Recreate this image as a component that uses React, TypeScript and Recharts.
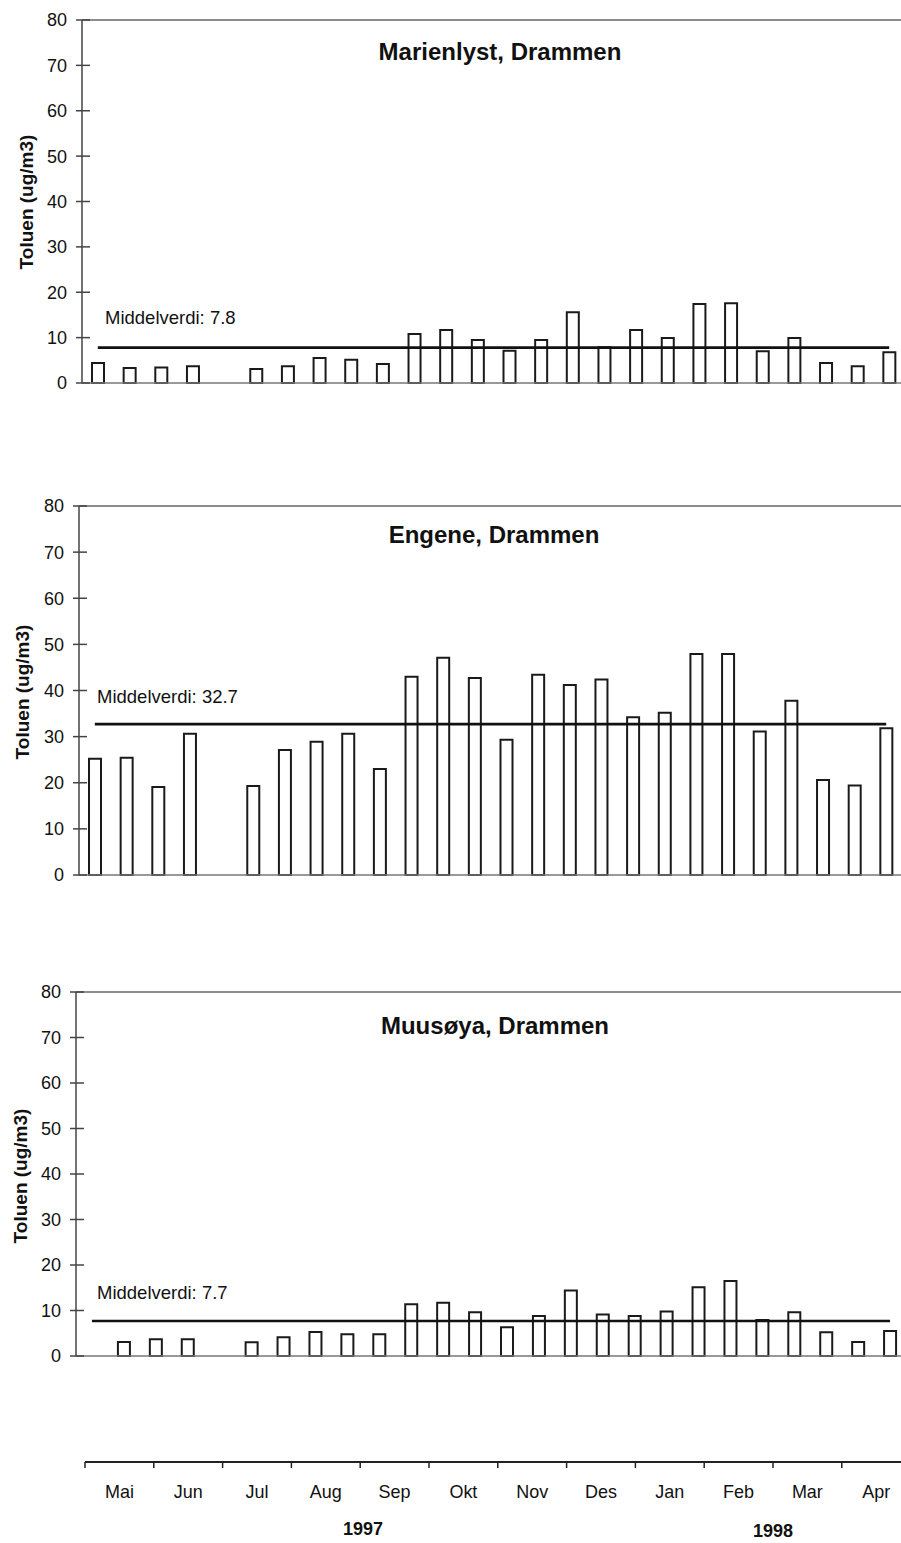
import React from 'react';
import { ComposedChart, Bar, Line, XAxis, YAxis, ReferenceLine } from 'recharts';

// ---- data ----
const SLOTS = [
  'P01', 'P02', 'P03', 'P04', 'P05', 'P06', 'P07', 'P08', 'P09', 'P10', 'P11', 'P12', 'P13',
  'P14', 'P15', 'P16', 'P17', 'P18', 'P19', 'P20', 'P21', 'P22', 'P23', 'P24', 'P25', 'P26',
];

const MARIENLYST: (number | null)[] = [
  4.4, 3.3, 3.4, 3.7, null, 3.1, 3.7, 5.5, 5.1, 4.2, 10.8, 11.7, 9.5,
  7.1, 9.5, 15.6, 7.9, 11.7, 9.9, 17.4, 17.6, 7.0, 9.9, 4.4, 3.7, 6.8,
];
const ENGENE: (number | null)[] = [
  25.2, 25.4, 19.1, 30.6, null, 19.3, 27.1, 28.9, 30.6, 23.0, 43.0, 47.1, 42.7,
  29.3, 43.4, 41.2, 42.4, 34.2, 35.2, 47.9, 47.9, 31.1, 37.8, 20.6, 19.4, 31.8,
];
const MUUSOYA: (number | null)[] = [
  null, 3.1, 3.7, 3.7, null, 3.0, 4.1, 5.3, 4.8, 4.8, 11.4, 11.7, 9.6,
  6.3, 8.8, 14.4, 9.1, 8.8, 9.8, 15.1, 16.5, 7.9, 9.6, 5.2, 3.1, 5.5,
];

const MEAN_MARIENLYST = 7.8;
const MEAN_ENGENE = 32.7;
const MEAN_MUUSOYA = 7.7;

const TITLES = ['Marienlyst, Drammen', 'Engene, Drammen', 'Muusøya, Drammen'];
const Y_TICKS = [0, 10, 20, 30, 40, 50, 60, 70, 80];
const MONTHS = ['Mai', 'Jun', 'Jul', 'Aug', 'Sep', 'Okt', 'Nov', 'Des', 'Jan', 'Feb', 'Mar', 'Apr'];
const YEARS = ['1997', '1998'];

const FONT = '"Liberation Sans", Arial, Helvetica, sans-serif';

// ---- components ----
const YTick = (props: any) => {
  const { x, y, payload } = props;
  return (
    <g>
      <line x1={x + 9} x2={x + 23} y1={y} y2={y} stroke="#444" strokeWidth={1.5} />
      <text x={x} y={y} dy="0.36em" textAnchor="end" fontSize={18} fontFamily={FONT} fill="#111">
        {payload.value}
      </text>
    </g>
  );
};

type PanelProps = {
  top: number;
  left: number;
  width: number;
  plotH: number;
  values: (number | null)[];
  mean: number;
};

function Panel({ top, left, width, plotH, values, mean }: PanelProps) {
  const data = SLOTS.map((s, i) => ({ slot: s, value: values[i], mean }));
  return (
    <div style={{ position: 'absolute', top: top - 10, left: 0 }}>
      <ComposedChart
        width={left + width}
        height={plotH + 21}
        data={data}
        margin={{ top: 10, right: 0, bottom: 10, left: 0 }}
      >
        <XAxis
          dataKey="slot"
          tick={false}
          tickLine={false}
          height={1}
          axisLine={{ stroke: '#777', strokeWidth: 1.5 }}
        />
        <YAxis
          domain={[0, 80]}
          ticks={Y_TICKS}
          interval={0}
          width={left}
          tickSize={6}
          tickMargin={9}
          tickLine={false}
          tick={YTick}
          axisLine={{ stroke: '#444', strokeWidth: 1.5 }}
        />
        <ReferenceLine y={80} stroke="#666" strokeWidth={1.5} />
        <Bar
          dataKey="value"
          barSize={12}
          fill="#ffffff"
          stroke="#1a1a1a"
          strokeWidth={2}
          isAnimationActive={false}
        />
        <Line
          dataKey="mean"
          stroke="#111"
          strokeWidth={2.6}
          dot={false}
          activeDot={false}
          isAnimationActive={false}
        />
      </ComposedChart>
    </div>
  );
}

const BAND = 68.8;

const MonthTick = (props: any) => {
  const { x, y, payload, index } = props;
  const axisY = y - 14;
  return (
    <g>
      <line x1={x - BAND / 2} x2={x - BAND / 2} y1={axisY} y2={axisY + 6} stroke="#222" strokeWidth={1.5} />
      {index === MONTHS.length - 1 && (
        <line x1={x + BAND / 2} x2={x + BAND / 2} y1={axisY} y2={axisY + 6} stroke="#222" strokeWidth={1.5} />
      )}
      <text x={x} y={axisY + 36} textAnchor="middle" fontSize={18} fontFamily={FONT} fill="#111">
        {payload.value}
      </text>
    </g>
  );
};

function MonthAxis() {
  const data = MONTHS.map((m) => ({ month: m }));
  return (
    <div style={{ position: 'absolute', top: 1440, left: 0 }}>
      <ComposedChart
        width={85 + BAND * 12}
        height={80}
        data={data}
        margin={{ top: 0, right: 0, bottom: 0, left: 85 }}
      >
        <XAxis
          dataKey="month"
          interval={0}
          height={58}
          tickSize={6}
          tickMargin={8}
          tickLine={false}
          tick={MonthTick}
          axisLine={{ stroke: '#222', strokeWidth: 2 }}
        />
        <YAxis hide domain={[0, 1]} />
        <Bar dataKey="none" isAnimationActive={false} />
      </ComposedChart>
    </div>
  );
}

const abs = (extra: React.CSSProperties): React.CSSProperties => ({
  position: 'absolute',
  whiteSpace: 'nowrap',
  fontFamily: FONT,
  color: '#111',
  lineHeight: 1,
  ...extra,
});

export default function App() {
  const panels = [
    { top: 20, left: 82, width: 823, plotH: 363, values: MARIENLYST, mean: MEAN_MARIENLYST,
      title: { x: 500, y: 52 }, mid: { x: 105, y: 318 }, ylab: { x: 26, y: 202 } },
    { top: 506, left: 79, width: 823, plotH: 369, values: ENGENE, mean: MEAN_ENGENE,
      title: { x: 494, y: 535 }, mid: { x: 97, y: 697 }, ylab: { x: 22, y: 692 } },
    { top: 992, left: 76, width: 830, plotH: 364, values: MUUSOYA, mean: MEAN_MUUSOYA,
      title: { x: 495, y: 1026 }, mid: { x: 97, y: 1293 }, ylab: { x: 20, y: 1176 } },
  ];
  return (
    <div
      style={{
        position: 'absolute',
        left: 0,
        top: 0,
        width: 901,
        height: 1543,
        overflow: 'hidden',
        background: '#fff',
      }}
    >
      {panels.map((p, i) => (
        <React.Fragment key={i}>
          <Panel top={p.top} left={p.left} width={p.width} plotH={p.plotH} values={p.values} mean={p.mean} />
          <div
            style={abs({
              left: p.title.x,
              top: p.title.y,
              transform: 'translate(-50%, -50%)',
              fontSize: 24,
              fontWeight: 'bold',
            })}
          >
            {TITLES[i]}
          </div>
          <div style={abs({ left: p.mid.x, top: p.mid.y, transform: 'translateY(-50%)', fontSize: 18.5 })}>
            {'Middelverdi: ' + p.mean.toFixed(1)}
          </div>
          <div
            style={abs({
              left: p.ylab.x,
              top: p.ylab.y,
              transform: 'translate(-50%, -50%) rotate(-90deg)',
              fontSize: 19,
              fontWeight: 'bold',
            })}
          >
            Toluen (ug/m3)
          </div>
        </React.Fragment>
      ))}
      <MonthAxis />
      <div style={abs({ left: 363, top: 1529, transform: 'translate(-50%, -50%)', fontSize: 18, fontWeight: 'bold' })}>
        {YEARS[0]}
      </div>
      <div style={abs({ left: 773, top: 1531, transform: 'translate(-50%, -50%)', fontSize: 18, fontWeight: 'bold' })}>
        {YEARS[1]}
      </div>
    </div>
  );
}
